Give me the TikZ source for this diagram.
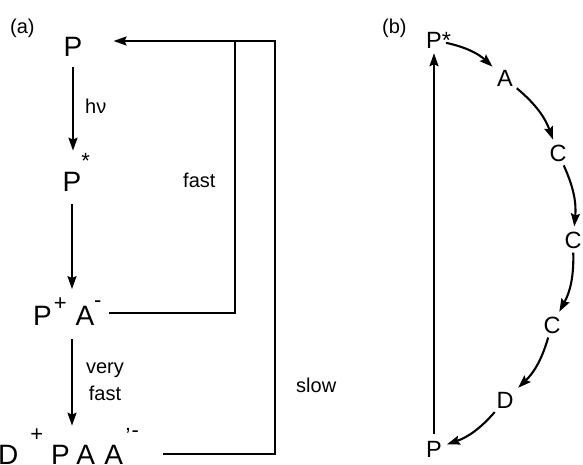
\documentclass[tikz,border=0pt]{standalone}
\usepackage{fontspec}
\setmainfont{Liberation Sans}
\usetikzlibrary{arrows.meta,positioning}
\newcommand{\up}[2]{\raisebox{#1}{\fontsize{22}{22}\selectfont #2}}

\begin{document}
\begin{tikzpicture}[x=1pt,y=-1pt,
  big/.style={inner sep=0pt,font=\fontsize{28}{30}\selectfont},
  mid/.style={inner sep=3pt,font=\fontsize{23.5}{26}\selectfont},
  lbl/.style={inner sep=0pt,font=\fontsize{20}{27}\selectfont,align=center},
  arr/.style={-{Stealth[length=13pt,width=9pt,inset=2pt]},line width=2.1pt},
  wire/.style={line width=2.1pt}]
  \useasboundingbox (0,0) rectangle (583,464);
  % (a) reaction scheme
  \node[lbl,anchor=base west] (taga) at (10,33) {(a)};
  \node[big,anchor=base] (pa) at (73,56) {P};
  \node[big,anchor=base] (pstar) at (72,191) {P\rlap{\up{23pt}{*}}};
  \node[big,anchor=base west] (papm) at (33,325) {P\hspace{2pt}\up{15pt}{+}\hspace{1pt} A\rlap{\up{18pt}{-}}};
  \node[big,anchor=base west] (dpaa) at (-2,464) {D\hspace{12pt}\up{23pt}{+}\hspace{0pt} P\hspace{-1pt} A\hspace{1.5pt} A\hspace{2.5pt}\up{21pt}{'}\hspace{1pt}\up{27pt}{-}};
  \draw[arr,shorten <=11pt,shorten >=2pt] (pa.south) -- (pa.south |- pstar.north);
  \draw[arr,shorten <=13pt,shorten >=8pt] (pstar.south) -- (pstar.south |- papm.north);
  \draw[arr,shorten <=14pt,shorten >=2pt] (pstar.south |- papm.south) -- (pstar.south |- dpaa.north);
  \node[lbl,anchor=base west] (hnu) at (85,113) {hν};
  \node[lbl,anchor=base west] (fast) at (183,187) {fast};
  \node[lbl,anchor=base] (vfast) at (105,400) {very\\fast};
  \node[lbl,anchor=base west] (slow) at (296,392) {slow};
  \coordinate (cf) at (235,313);
  \coordinate (tf) at (235,41);
  \coordinate (cs) at (275,454);
  \coordinate (ts) at (275,41);
  \draw[wire,shorten <=15pt] (papm.east |- cf) -- (cf) -- (tf);
  \draw[arr,shorten <=24pt,shorten >=31pt] (dpaa.east |- cs) -- (cs) -- (ts) -- (pa.east |- ts);
  % (b) electron transfer chain
  \node[lbl,anchor=base west] (tagb) at (382,33) {(b)};
  \node[mid,anchor=base] (bps) at (434,48) {P\rlap{*}};
  \node[mid] (ba) at (505,78.5) {A};
  \node[mid] (bc1) at (558,153) {C};
  \node[mid] (bc2) at (573,240) {C};
  \node[mid] (bc3) at (552,325) {C};
  \node[mid] (bd) at (505,400) {D};
  \node[mid,anchor=base] (bp) at (434,457) {P};
  \foreach \x/\y in {bps/ba,ba/bc1,bc1/bc2,bc2/bc3,bc3/bd,bd/bp}
    \draw[arr,shorten <=1pt,shorten >=2pt] (\x) to[bend left=15] (\y);
  \draw[arr,shorten <=4pt,shorten >=2pt] (bp) -- (bps);
\end{tikzpicture}
\end{document}
